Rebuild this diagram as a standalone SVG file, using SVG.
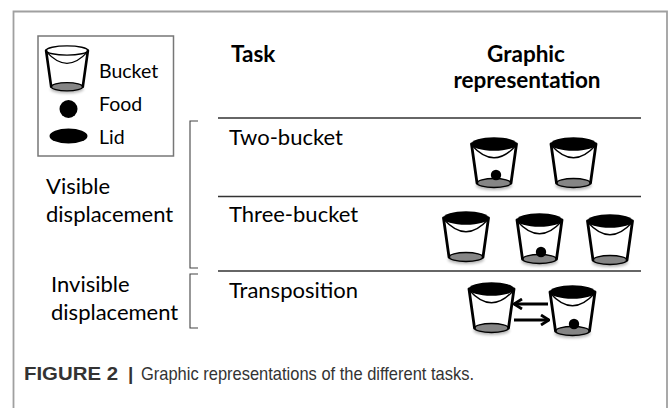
<svg xmlns="http://www.w3.org/2000/svg" xmlns:xlink="http://www.w3.org/1999/xlink" width="668" height="408" viewBox="0 0 668 408">
<style>
.t{font-family:Lato,"Open Sans","Liberation Sans",sans-serif;font-size:22px;fill:#000}
.b{font-weight:bold;font-size:22.5px}
.lg{font-size:19.5px}
.rule{stroke:#333;stroke-width:1.6;fill:none}
.brk{stroke:#444;stroke-width:1.1;fill:none}
.arr{stroke:#000;stroke-width:3;fill:none}
.cap{font-family:"Liberation Sans Narrow","Liberation Sans",Arial,sans-serif;font-size:19px;fill:#333}
</style>
<defs>
<filter id="blur" x="-50%" y="-100%" width="200%" height="300%"><feGaussianBlur stdDeviation="1.6"/></filter>
<g id="body">
<ellipse cx="0" cy="41.5" rx="18" ry="4.5" fill="#000" opacity="0.3" filter="url(#blur)"/>
<ellipse cx="0" cy="39" rx="17" ry="4.5" fill="#858585" stroke="#000" stroke-width="1.4"/>
<path d="M-22.5,0 L-17,39 M22.5,0 L17,39" stroke="#000" stroke-width="2.8" fill="none" stroke-linecap="round"/>
<path d="M-22,1.5 Q0,26 22,1.5" stroke="#000" stroke-width="1.4" fill="none"/>
</g>
<g id="lidded">
<use xlink:href="#body"/>
<ellipse cx="0" cy="0" rx="22.8" ry="6.8" fill="#000"/>
</g>
<g id="open">
<use xlink:href="#body"/>
<ellipse cx="0" cy="0" rx="22.5" ry="5" fill="none" stroke="#000" stroke-width="1.5"/>
</g>
<marker id="chev" viewBox="0 0 10 12" refX="9" refY="6" markerWidth="10" markerHeight="12" markerUnits="userSpaceOnUse" orient="auto">
<path d="M1,1 L9,6 L1,11" fill="none" stroke="#000" stroke-width="2.8"/>
</marker>
</defs>
<rect width="668" height="408" fill="#fff"/>
<path d="M13.5,420 L13.5,11.5 L667,11.5 L667,420" fill="none" stroke="#a0a0a0" stroke-width="1.8"/>

<g id="legend">
<rect x="38" y="36" width="135.5" height="120" fill="none" stroke="#777" stroke-width="1.5"/>
<use xlink:href="#open" transform="translate(67,50.5) scale(0.93)"/>
<text class="t lg" x="99" y="77.5">Bucket</text>
<circle cx="68.5" cy="109" r="9" fill="#000"/>
<text class="t lg" x="99" y="110.7">Food</text>
<ellipse cx="68.5" cy="136" rx="19" ry="7.5" fill="#000"/>
<text class="t lg" x="99" y="144">Lid</text>
</g>

<g id="headers">
<text class="t b" x="231" y="62">Task</text>
<text class="t b" x="526" y="62" text-anchor="middle">Graphic</text>
<text class="t b" x="527" y="88" text-anchor="middle">representation</text>
</g>

<g id="group-visible">
<text class="t" x="46" y="194">Visible</text>
<text class="t" x="46" y="222">displacement</text>
</g>
<g id="group-invisible">
<text class="t" x="51" y="292">Invisible</text>
<text class="t" x="51" y="320">displacement</text>
</g>

<g id="row-two-bucket">
<text class="t" x="229" y="145">Two-bucket</text>
<use xlink:href="#lidded" transform="translate(494,144)"/>
<circle cx="496" cy="175" r="5.2" fill="#000"/>
<use xlink:href="#lidded" transform="translate(573.5,144)"/>
</g>

<g id="row-three-bucket">
<text class="t" x="229" y="222">Three-bucket</text>
<use xlink:href="#lidded" transform="translate(466,218)"/>
<use xlink:href="#lidded" transform="translate(539.5,220)"/>
<circle cx="541" cy="252" r="5.2" fill="#000"/>
<use xlink:href="#lidded" transform="translate(610,221)"/>
</g>

<g id="row-transposition">
<text class="t" x="229" y="298">Transposition</text>
<use xlink:href="#lidded" transform="translate(491.5,289)"/>
<use xlink:href="#lidded" transform="translate(572.5,292)"/>
<circle cx="574" cy="324" r="5.2" fill="#000"/>
</g>

<g id="connectors">
<line class="rule" x1="218" y1="118" x2="641" y2="118"/>
<line class="rule" x1="218" y1="196.5" x2="641" y2="196.5"/>
<line class="rule" x1="218" y1="271" x2="641" y2="271"/>
<path class="brk" d="M198,121 L190,121 L190,268 L198,268"/>
<path class="brk" d="M198,274 L190,274 L190,328 L198,328"/>
<line class="arr" x1="548" y1="304" x2="514" y2="304" marker-end="url(#chev)"/>
<line class="arr" x1="514" y1="320" x2="549" y2="320" marker-end="url(#chev)"/>
</g>

<g id="caption">
<text class="cap" x="24" y="380" font-weight="bold" font-size="20" textLength="94" lengthAdjust="spacingAndGlyphs">FIGURE 2</text>
<text class="cap" x="128" y="380" font-weight="bold" font-size="20">|</text>
<text class="cap" x="141" y="380" textLength="333" lengthAdjust="spacingAndGlyphs">Graphic representations of the different tasks.</text>
</g>
</svg>
